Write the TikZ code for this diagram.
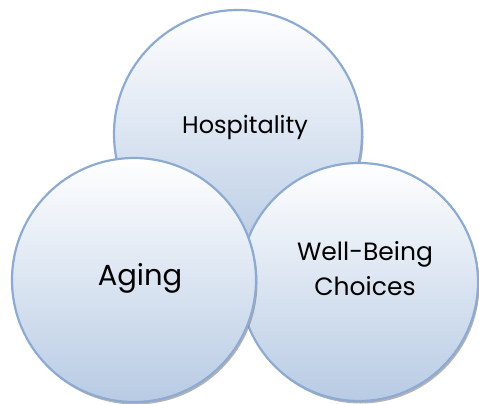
\documentclass[tikz,border=0pt]{standalone}
\usepackage{fontspec}
\setmainfont{Poppins}
\usetikzlibrary{shadows,calc}

\definecolor{ringline}{RGB}{141,171,210}
\definecolor{ringbottom}{RGB}{184,203,228}

\tikzset{
    topic/.style={circle, draw=ringline, line width=2.2pt, top color=white, bottom color=ringbottom,
        drop shadow={shadow xshift=1.5pt, shadow yshift=-2.5pt, fill=black!50, opacity=0.6},
        inner sep=0pt},
    caption/.style={align=center, text=black, inner sep=0pt},
}

\begin{document}
\begin{tikzpicture}[x=1pt,y=-1pt]
    \useasboundingbox (0,0) rectangle (479,404);

    %circles, back to front
    \node[topic, minimum size=248pt] (hosp) at (238,134) {};
    \node[topic, minimum size=238pt] (well) at (359,282) {};
    \node[topic, minimum size=244pt] (aging) at (134,280) {};

    %texts
    \node[caption, anchor=base, font=\fontsize{24}{28}\selectfont] (hospText) at ($(hosp)+(7,-1)$) {Hospitality};
    \node[caption, font=\fontsize{25}{35}\selectfont] (wellText) at ($(well)+(6,-13)$) {Well-Being\\Choices};
    \node[caption, anchor=base, font=\fontsize{29}{34}\selectfont] (agingText) at ($(aging)+(6,5)$) {Aging};
\end{tikzpicture}
\end{document}
